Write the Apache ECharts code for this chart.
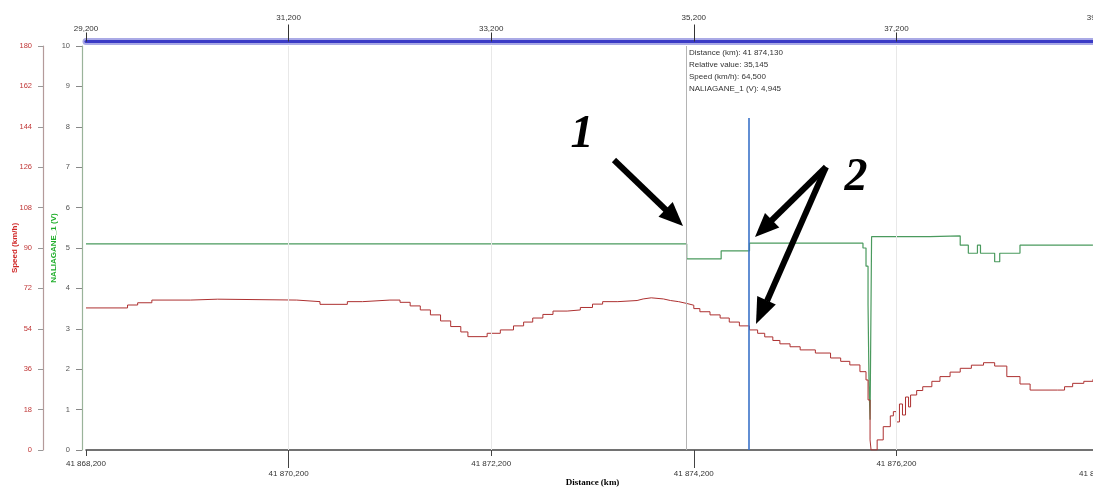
<!DOCTYPE html>
<html><head><meta charset="utf-8">
<script src="https://cdn.jsdelivr.net/npm/echarts@6/dist/echarts.min.js"></script>
<style>html,body{margin:0;padding:0;background:#fff}#c{width:1093px;height:487px}</style>
</head><body><div id="c"></div>
<script>
// ---------- data ----------
const speedDistKm = [41868.20,41868.61,41868.71,41868.85,41869.23,41869.50,41870.28,41870.51,41870.78,41870.93,41871.20,
  41871.30,41871.40,41871.50,41871.60,41871.70,41871.80,41871.90,41871.97,41872.16,41872.29,41872.42,41872.52,41872.61,41872.71,41872.81,41872.95,
  41873.08,41873.20,41873.30,41873.45,41873.64,41873.70,41873.78,41873.90,41873.97,41874.05,41874.13,41874.20,41874.26,41874.36,41874.46,41874.55,
  41874.65,41874.75,41874.83,41874.90,41874.98,41875.05,41875.15,41875.25,41875.40,41875.55,41875.65,41875.74,41875.84,41875.90,41875.92,41875.94,41875.95,
  41876.01,41876.07,41876.14,41876.17,41876.20,41876.23,41876.26,41876.29,41876.32,41876.34,41876.40,41876.46,41876.55,41876.63,41876.73,41876.83,
  41876.94,41877.06,41877.17,41877.29,41877.42,41877.52,41877.79,41877.86,41877.94,41878.05,41878.14];
const speedKmh = [63.3,64.6,65.6,66.8,67.2,66.8,66.1,64.9,66.1,66.8,66.8,
  65.8,64.2,62.4,60.2,57.5,55.0,52.6,50.5,52.0,53.5,55.3,57.0,58.8,60.4,61.9,62.4,
  63.5,65.0,66.1,66.6,67.3,67.8,67.3,66.6,66.1,65.3,64.5,63.0,61.6,60.2,58.8,57.0,
  55.3,53.5,52.0,50.4,48.8,47.3,46.0,44.6,43.2,41.0,39.5,37.9,34.9,31.2,22.3,4.5,0,
  4.5,10.4,15.2,17.1,12.5,20.5,15.6,23.6,19.2,24.5,26.5,28.2,30.6,32.7,34.7,36.4,
  37.8,38.9,37.4,32.7,29.4,26.7,26.7,28.2,29.7,30.6,31.5];

const voltDistKm = [41868.20,41874.13,41874.47,41874.75,41875.87,41875.90,41875.92,41875.93,41875.94,41875.955,
  41876.53,41876.83,41876.91,41877.00,41877.03,41877.17,41877.22,41877.42,41878.14];
const voltageV = [5.10,4.73,4.93,5.12,5.00,4.55,3.60,1.60,0.75,5.28,
  5.30,5.07,4.87,5.07,4.87,4.66,4.87,5.07,5.07];

const bottomTicks = [41868.2,41870.2,41872.2,41874.2,41876.2,41878.2];
const topTicks = [29.2,31.2,33.2,35.2,37.2,39.2];
const gridLineKm = [41870.2,41872.2,41876.2];
const speedMax = 180, speedStep = 18;
const voltMax = 10, voltStep = 1;

const cursorKm = 41874.13, cursorRelative = 35.145, cursorSpeed = 64.5, cursorVolt = 4.945;
const marker2Km = 41874.745, marker2TopV = 8.22;

// ---------- helpers ----------
function fmt3(v){
  const s = (+v).toFixed(3).split('.');
  return s[0].replace(/\B(?=(\d{3})+(?!\d))/g,' ') + ',' + s[1];
}
const even = a => a.filter((_,i)=>i%2===0);
const odd = a => a.filter((_,i)=>i%2===1);
const zip = (a,b) => a.map((x,i)=>[x,b[i]]);
const FONT = 'Liberation Sans';

const chart = echarts.init(document.getElementById('c'), null, {renderer:'canvas'});
const xMin = bottomTicks[0], xMax = bottomTicks[bottomTicks.length-1];
const tMin = topTicks[0], tMax = topTicks[topTicks.length-1];
const lbl = {fontSize:8, color:'#333', fontFamily:FONT};

const option = {
  animation:false,
  backgroundColor:'#fff',
  grid:{left:86, top:46, width:1013, height:404, containLabel:false, outerBoundsMode:'none'},
  xAxis:[
    {type:'value', position:'bottom', min:xMin, max:xMax,
     axisLine:{show:true,onZero:false,lineStyle:{color:'#444',width:1.6}},
     axisTick:{show:true,customValues:even(bottomTicks),length:6,lineStyle:{color:'#444'}},
     axisLabel:Object.assign({customValues:even(bottomTicks),formatter:fmt3,margin:10,showMinLabel:true,showMaxLabel:true},lbl),
     splitLine:{show:false},
     name:'Distance (km)', nameLocation:'middle', nameGap:28, nameMoveOverlap:false,
     nameTextStyle:{fontWeight:'bold',fontSize:9,color:'#000',fontFamily:'Liberation Serif'}},
    {type:'value', position:'bottom', min:xMin, max:xMax,
     axisLine:{show:false,onZero:false},
     axisTick:{show:true,customValues:odd(bottomTicks),length:18,lineStyle:{color:'#444'}},
     axisLabel:Object.assign({customValues:odd(bottomTicks),formatter:fmt3,margin:20,showMinLabel:true,showMaxLabel:true},lbl),
     splitLine:{show:false}},
    {type:'value', position:'top', offset:4.5, min:tMin, max:tMax,
     axisLine:{show:true,onZero:false,lineStyle:{color:'#aaaae6',width:7}},
     axisTick:{show:true,customValues:odd(topTicks),length:17,lineStyle:{color:'#333'}},
     axisLabel:Object.assign({customValues:odd(topTicks),formatter:fmt3,margin:20,showMinLabel:true,showMaxLabel:true},lbl),
     splitLine:{show:false}},
    {type:'value', position:'top', offset:4.5, min:tMin, max:tMax,
     axisLine:{show:true,onZero:false,lineStyle:{color:'#3b3bc6',width:3}},
     axisTick:{show:true,customValues:even(topTicks),length:9,lineStyle:{color:'#333'}},
     axisLabel:Object.assign({customValues:even(topTicks),formatter:fmt3,margin:9,showMinLabel:true,showMaxLabel:true},lbl),
     splitLine:{show:false}}
  ],
  yAxis:[
    {type:'value', position:'left', offset:4, min:0, max:voltMax, interval:voltStep,
     axisLine:{show:true,onZero:false,lineStyle:{color:'#9ab39a',width:1.2}},
     axisTick:{show:true,length:6,lineStyle:{color:'#888'}},
     axisLabel:{fontSize:7.5,color:'#555',margin:12,fontFamily:FONT},
     splitLine:{show:false},
     name:'NALIAGANE_1 (V)', nameLocation:'middle', nameGap:24, nameRotate:90, nameMoveOverlap:false,
     nameTextStyle:{color:'#1fae2a',fontSize:8,fontWeight:'bold',fontFamily:FONT}},
    {type:'value', position:'left', offset:43, min:0, max:speedMax, interval:speedStep,
     axisLine:{show:true,onZero:false,lineStyle:{color:'#b49a9a',width:1.2}},
     axisTick:{show:true,length:5,lineStyle:{color:'#999'}},
     axisLabel:{fontSize:7.5,color:'#c03636',margin:11,fontFamily:FONT},
     splitLine:{show:false},
     name:'Speed (km/h)', nameLocation:'middle', nameGap:24, nameRotate:90, nameMoveOverlap:false,
     nameTextStyle:{color:'#d02828',fontSize:8,fontWeight:'bold',fontFamily:FONT}}
  ],
  series:[
    {name:'NALIAGANE_1 (V)', type:'line', xAxisIndex:0, yAxisIndex:0, step:'end',
     showSymbol:false, symbol:'none', data:zip(voltDistKm, voltageV),
     lineStyle:{color:'#4a9a5e',width:1.2}, itemStyle:{color:'#4a9a5e'}, z:3,
     markLine:{silent:true, symbol:['none','none'], label:{show:false}, animation:false,
       data:[
         ...gridLineKm.map(v=>({xAxis:v, lineStyle:{color:'#e8e8e8',width:1,type:'solid'}})),
         [{coord:[marker2Km,0]},{coord:[marker2Km,marker2TopV]}]
       ],
       lineStyle:{color:'#3a72c8',width:1.6,type:'solid'}}},
    {name:'Speed (km/h)', type:'line', xAxisIndex:0, yAxisIndex:1, step:'end',
     showSymbol:false, symbol:'none', data:zip(speedDistKm, speedKmh),
     lineStyle:{color:'#ad3030',width:1}, itemStyle:{color:'#ad3030'}, z:3,
     markLine:{silent:true, symbol:['none','none'], label:{show:false}, animation:false,
       data:[{xAxis:cursorKm}], lineStyle:{color:'#b4b4b4',width:1,type:'solid'}}}
  ],
  graphic:[
    {type:'text', x:689, y:47, z:10, style:{
      text:['Distance (km): '+fmt3(cursorKm),'Relative value: '+fmt3(cursorRelative),
            'Speed (km/h): '+fmt3(cursorSpeed),'NALIAGANE_1 (V): '+fmt3(cursorVolt)].join('\n'),
      fontSize:8, fontFamily:FONT, fill:'#333', lineHeight:12, align:'left', verticalAlign:'top'}},
    {type:'text', x:582, y:135, z:10, style:{text:'1', fontSize:46, fontStyle:'italic', fontWeight:'bold',
      fontFamily:'Liberation Serif', fill:'#000', align:'center', verticalAlign:'middle'}},
    {type:'text', x:856, y:178, z:10, style:{text:'2', fontSize:46, fontStyle:'italic', fontWeight:'bold',
      fontFamily:'Liberation Serif', fill:'#000', align:'center', verticalAlign:'middle'}},
    {type:'line', z:10, shape:{x1:614,y1:160,x2:666,y2:210}, style:{stroke:'#000',lineWidth:6}},
    {type:'polygon', z:10, shape:{points:[[683,226],[658.5,216.8],[672.7,202]]}, style:{fill:'#000'}},
    {type:'line', z:10, shape:{x1:826,y1:167,x2:771,y2:221}, style:{stroke:'#000',lineWidth:6}},
    {type:'polygon', z:10, shape:{points:[[755,237],[765,213],[779.3,227.4]]}, style:{fill:'#000'}},
    {type:'line', z:10, shape:{x1:826,y1:167,x2:767,y2:301}, style:{stroke:'#000',lineWidth:6}},
    {type:'polygon', z:10, shape:{points:[[756,324],[757.2,296],[775.8,304.4]]}, style:{fill:'#000'}}
  ]
};
chart.setOption(option);
</script></body></html>
